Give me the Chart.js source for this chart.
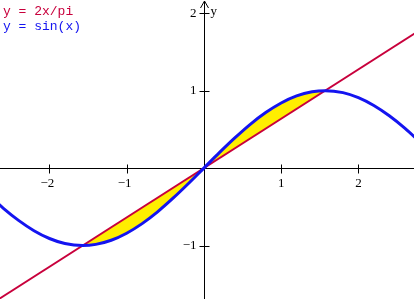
<!DOCTYPE html>
<html>
<head>
<meta charset="utf-8">
<script src="https://cdn.jsdelivr.net/npm/chart.js@4"></script>
<style>
  html, body { margin: 0; padding: 0; background: #fff; }
  #wrap { width: 414px; height: 299px; position: relative; }
</style>
</head>
<body>
<div id="wrap"><canvas id="chart"></canvas></div>
<script>
// sampled x positions (radians) and the sin(x) values read at them
const sinX = [-2.8, -2.6, -2.4, -2.2, -2.0, -1.8, -1.571, -1.4, -1.2, -1.0, -0.8, -0.6, -0.4, -0.2, 0,
              0.2, 0.4, 0.6, 0.8, 1.0, 1.2, 1.4, 1.571, 1.8, 2.0, 2.2, 2.4, 2.6, 2.8];
const sinY = [-0.335, -0.516, -0.675, -0.808, -0.909, -0.974, -1.0, -0.985, -0.932, -0.841, -0.717, -0.565, -0.389, -0.199, 0,
              0.199, 0.389, 0.565, 0.717, 0.841, 0.932, 0.985, 1.0, 0.974, 0.909, 0.808, 0.675, 0.516, 0.335];
// y = 2x/pi end points
const lineX = [-2.8, 2.8];
const lineY = [-1.783, 1.783];
// shaded region limits (where the two curves meet)
const shadeFrom = -1.571;
const shadeTo = 1.571;
// axis ticks
const xTicks = [-2, -1, 1, 2];
const yTicks = [-1, 1, 2];
const legendLabels = ['y = 2x/pi', 'y = sin(x)'];

const toPts = (xs, ys) => xs.map((x, i) => ({ x: x, y: ys[i] }));
const sinPts = toPts(sinX, sinY);
const linePts = toPts(lineX, lineY);
const shadeSin = sinPts.filter(p => p.x >= shadeFrom && p.x <= shadeTo);
const shadeLine = [{ x: shadeFrom, y: -1 }, { x: shadeTo, y: 1 }];

const RED = '#c8003c';
const BLUE = '#1414f0';

// Draws the cross axes, ticks, labels and legend text
const axesPlugin = {
  id: 'axes',
  beforeDatasetsDraw(chart) {
    const ctx = chart.ctx;
    const sx = chart.scales.x, sy = chart.scales.y;
    const x0 = Math.round(sx.getPixelForValue(0)) + 0.5;
    const y0 = Math.round(sy.getPixelForValue(0)) + 0.5;
    ctx.save();
    ctx.strokeStyle = '#000';
    ctx.lineWidth = 1;
    ctx.beginPath();
    ctx.moveTo(sx.left, y0); ctx.lineTo(sx.right, y0);
    ctx.moveTo(x0, sy.top + 1); ctx.lineTo(x0, sy.bottom);
    xTicks.forEach(t => {
      const px = Math.round(sx.getPixelForValue(t)) + 0.5;
      ctx.moveTo(px, y0 - 4); ctx.lineTo(px, y0 + 5);
    });
    yTicks.forEach(t => {
      const py = Math.round(sy.getPixelForValue(t)) + 0.5;
      ctx.moveTo(x0 - 5, py); ctx.lineTo(x0 + 5, py);
    });
    // arrow head on y axis
    ctx.moveTo(x0 - 4, sy.top + 8); ctx.lineTo(x0, sy.top + 1); ctx.lineTo(x0 + 4, sy.top + 8);
    ctx.stroke();

    ctx.fillStyle = '#000';
    ctx.font = '13px "Liberation Serif"';
    ctx.textAlign = 'center';
    ctx.textBaseline = 'middle';
    xTicks.forEach(t => {
      const px = sx.getPixelForValue(t);
      ctx.fillText(t < 0 ? '\u2212' + (-t) : String(t), px - (t < 0 ? 2 : 0), y0 + 15);
    });
    ctx.textAlign = 'right';
    yTicks.forEach(t => {
      const py = sy.getPixelForValue(t);
      ctx.fillText(t < 0 ? '\u2212' + (-t) : String(t), x0 - 8, py);
    });
    ctx.textAlign = 'left';
    ctx.fillText('y', x0 + 6, sy.top + 12);

    ctx.font = '13px "Liberation Mono"';
    ctx.textBaseline = 'alphabetic';
    ctx.fillStyle = RED;
    ctx.fillText(legendLabels[0], 3, 15);
    ctx.fillStyle = BLUE;
    ctx.fillText(legendLabels[1], 3, 30);
    ctx.restore();
  }
};

new Chart(document.getElementById('chart').getContext('2d'), {
  type: 'scatter',
  data: {
    datasets: [
      { data: sinPts, showLine: true, borderColor: BLUE, borderWidth: 3, pointRadius: 0,
        cubicInterpolationMode: 'monotone', fill: false, order: 1 },
      { data: linePts, showLine: true, borderColor: RED, borderWidth: 2, pointRadius: 0,
        fill: false, order: 2 },
      { data: shadeSin, showLine: true, borderWidth: 0, borderColor: 'rgba(0,0,0,0)', pointRadius: 0,
        cubicInterpolationMode: 'monotone', fill: { target: 3, above: '#ffee00', below: '#ffee00' }, order: 3 },
      { data: shadeLine, showLine: true, borderWidth: 0, borderColor: 'rgba(0,0,0,0)', pointRadius: 0,
        fill: false, order: 4 }
    ]
  },
  options: {
    responsive: true,
    maintainAspectRatio: false,
    animation: false,
    layout: { padding: 0 },
    plugins: { legend: { display: false }, tooltip: { enabled: false } },
    scales: {
      x: { type: 'linear', min: -2.64, max: 2.72, display: false },
      y: { type: 'linear', min: -1.69, max: 2.17, display: false }
    }
  },
  plugins: [axesPlugin]
});
</script>
</body>
</html>
